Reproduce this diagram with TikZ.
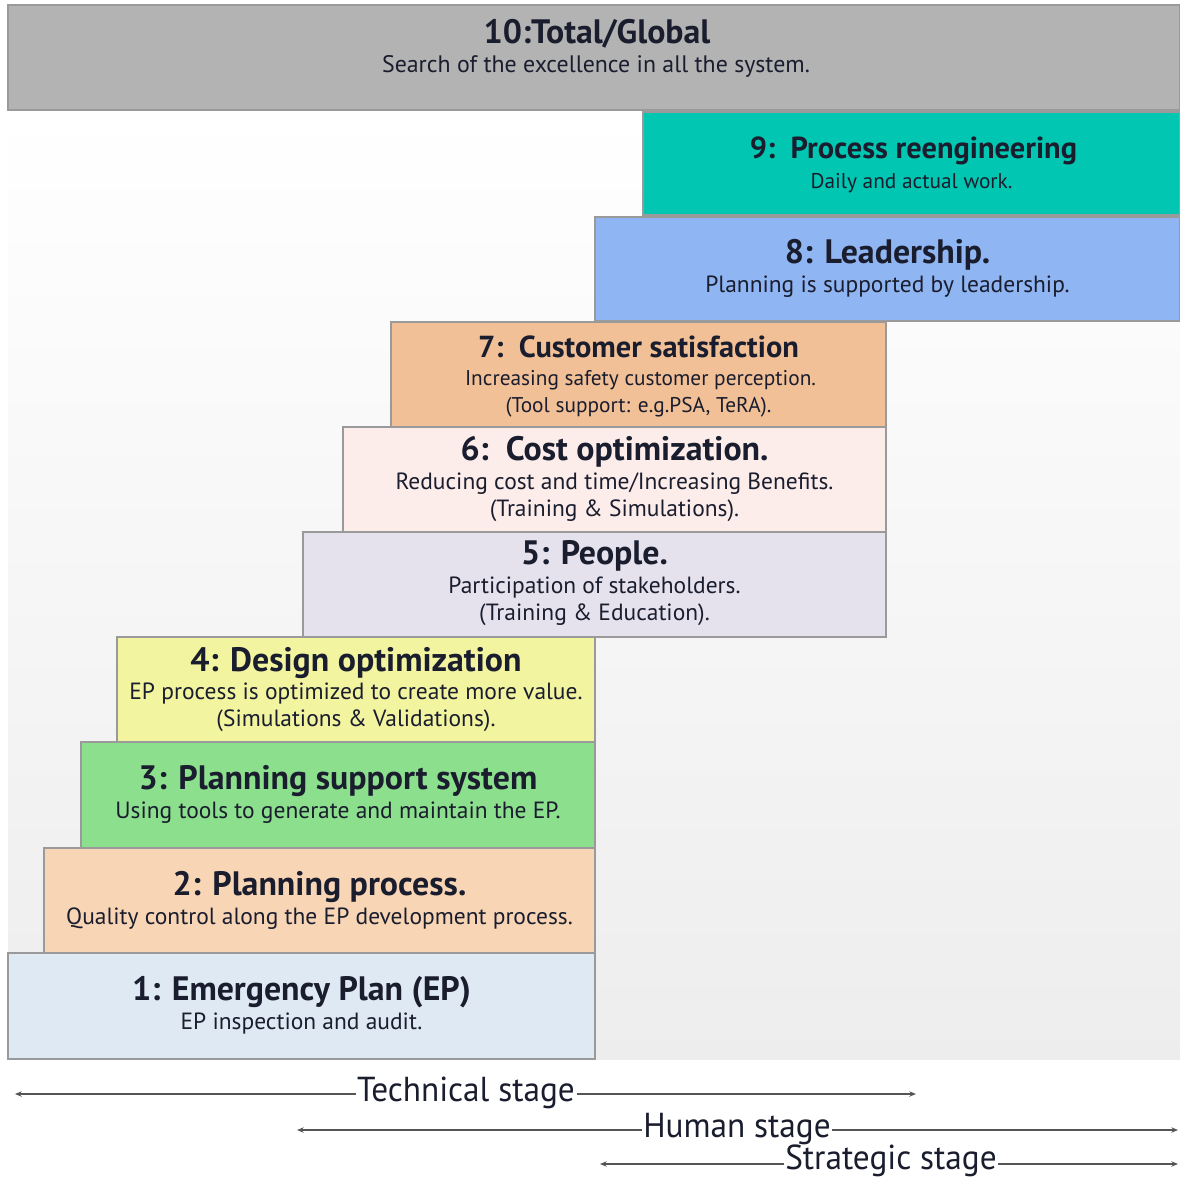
\documentclass[tikz,border=0pt]{standalone}
\usepackage{fontspec}
\setmainfont{PT Sans}
\usetikzlibrary{calc,arrows.meta}
\definecolor{c10}{HTML}{B3B3B3}
\definecolor{c9}{HTML}{00C6B2}
\definecolor{c8}{HTML}{8FB5F2}
\definecolor{c7}{HTML}{F2C096}
\definecolor{c6}{HTML}{FCEDEB}
\definecolor{c5}{HTML}{E5E2EE}
\definecolor{c4}{HTML}{F2F4A0}
\definecolor{c3}{HTML}{8CDF8C}
\definecolor{c2}{HTML}{F8D5B5}
\definecolor{c1}{HTML}{DFE9F3}
\definecolor{edge}{HTML}{9A9A9A}
\definecolor{ink}{HTML}{1A1D2E}
\definecolor{arr}{HTML}{555555}
\begin{document}
\begin{tikzpicture}[x=0.75pt,y=-0.75pt,
  stepbox/.style={draw=edge,line width=1.1pt,anchor=north west,inner sep=0pt,outer sep=0pt},
  ttl/.style={font=\fontsize{25.4}{29}\selectfont\bfseries,text=ink,inner sep=0pt,anchor=center},
  ttls/.style={font=\fontsize{22.8}{26}\selectfont\bfseries,text=ink,inner sep=0pt,anchor=center},
  sub/.style={font=\fontsize{17.6}{20}\selectfont,text=ink,inner sep=0pt,anchor=center},
  subs/.style={font=\fontsize{16}{18}\selectfont,text=ink,inner sep=0pt,anchor=center},
  stg/.style={font=\fontsize{26}{29}\selectfont,text=ink,inner sep=1pt,anchor=center},
  stgline/.style={draw=arr,line width=0.9pt}
]
\useasboundingbox (0,0) rectangle (1180,1178);
\fill[white] (0,0) rectangle (1180,1178);
\shade[top color=white,bottom color=black!7] (8,110) rectangle (1180,1059);

% boxes
\node[stepbox,fill=c10,minimum width=1172*0.75pt,minimum height=105*0.75pt] (b10) at (8,5) {};
\node[stepbox,fill=c9,minimum width=537*0.75pt,minimum height=103*0.75pt] (b9) at (643,112) {};
\node[stepbox,fill=c8,minimum width=585*0.75pt,minimum height=104*0.75pt] (b8) at (595,217) {};
\node[stepbox,fill=c7,minimum width=495*0.75pt,minimum height=105*0.75pt] (b7) at (391,322) {};
\node[stepbox,fill=c6,minimum width=543*0.75pt,minimum height=105*0.75pt] (b6) at (343,427) {};
\node[stepbox,fill=c5,minimum width=583*0.75pt,minimum height=105*0.75pt] (b5) at (303,532) {};
\node[stepbox,fill=c4,minimum width=478*0.75pt,minimum height=105*0.75pt] (b4) at (117,637) {};
\node[stepbox,fill=c3,minimum width=514*0.75pt,minimum height=106*0.75pt] (b3) at (81,742) {};
\node[stepbox,fill=c2,minimum width=551*0.75pt,minimum height=105*0.75pt] (b2) at (44,848) {};
\node[stepbox,fill=c1,minimum width=587*0.75pt,minimum height=106*0.75pt] (b1) at (8,953) {};

% texts
\node[ttl] (t10) at ($(b10.north)+(3,29)$) {10:Total/Global};
\node[sub,font=\fontsize{17.9}{20}\selectfont] (s10) at ($(b10.north)+(2,61)$) {Search of the excellence in all the system.};

\node[ttls] (t9) at ($(b9.north)+(2,39)$) {9:\, Process reengineering};
\node[subs] (s9) at ($(b9.north)+(0,71)$) {Daily and actual work.};

\node[ttl] (t8) at ($(b8.north)+(0,38)$) {8: Leadership.};
\node[sub] (s8) at ($(b8.north)+(0,70)$) {Planning is supported by leadership.};

\node[ttls] (t7) at ($(b7.north)+(0,25)$) {7:\, Customer satisfaction};
\node[subs] (s7a) at ($(b7.north)+(2,58)$) {Increasing safety customer perception.};
\node[subs] (s7b) at ($(b7.north)+(0,85)$) {(Tool support: e.g.PSA, TeRA).};

\node[ttl] (t6) at ($(b6.north)+(0,25)$) {6:\, Cost optimization.};
\node[sub] (s6a) at ($(b6.north)+(0,57)$) {Reducing cost and time/Increasing Benefits.};
\node[sub] (s6b) at ($(b6.north)+(0,84)$) {(Training \& Simulations).};

\node[ttl] (t5) at ($(b5.north)+(0,24)$) {5: People.};
\node[sub] (s5a) at ($(b5.north)+(0,56)$) {Participation of stakeholders.};
\node[sub] (s5b) at ($(b5.north)+(0,83)$) {(Training \& Education).};

\node[ttl] (t4) at ($(b4.north)+(0,26)$) {4: Design optimization};
\node[sub] (s4a) at ($(b4.north)+(0,57)$) {EP process is optimized to create more value.};
\node[sub] (s4b) at ($(b4.north)+(0,84)$) {(Simulations \& Validations).};

\node[ttl] (t3) at ($(b3.north)+(0,39)$) {3: Planning support system};
\node[sub] (s3) at ($(b3.north)+(0,71)$) {Using tools to generate and maintain the EP.};

\node[ttl] (t2) at ($(b2.north)+(0,39)$) {2: Planning process.};
\node[sub] (s2) at ($(b2.north)+(0,71)$) {Quality control along the EP development process.};

\node[ttl] (t1) at ($(b1.north)+(0,39)$) {1: Emergency Plan (EP)};
\node[sub] (s1) at ($(b1.north)+(0,71)$) {EP inspection and audit.};

% stages
\node[stg] (tech) at (466,1093) {\scalebox{0.96}[1]{Technical stage}};
\coordinate (techL) at (15,1094);
\coordinate (techR) at (916,1094);
\draw[stgline,-{Stealth[length=5pt,width=4pt]}] (tech.west|-techL) -- (techL);
\draw[stgline,-{Stealth[length=5pt,width=4pt]}] (tech.east|-techR) -- (techR);

\node[stg] (hum) at (737,1129) {\scalebox{0.96}[1]{Human stage}};
\coordinate (humL) at (297,1130);
\coordinate (humR) at (1178,1130);
\draw[stgline,-{Stealth[length=5pt,width=4pt]}] (hum.west|-humL) -- (humL);
\draw[stgline,-{Stealth[length=5pt,width=4pt]}] (hum.east|-humR) -- (humR);

\node[stg] (str) at (891,1161) {\scalebox{0.96}[1]{Strategic stage}};
\coordinate (strL) at (600,1164);
\coordinate (strR) at (1178,1164);
\draw[stgline,-{Stealth[length=5pt,width=4pt]}] (str.west|-strL) -- (strL);
\draw[stgline,-{Stealth[length=5pt,width=4pt]}] (str.east|-strR) -- (strR);
\end{tikzpicture}
\end{document}
